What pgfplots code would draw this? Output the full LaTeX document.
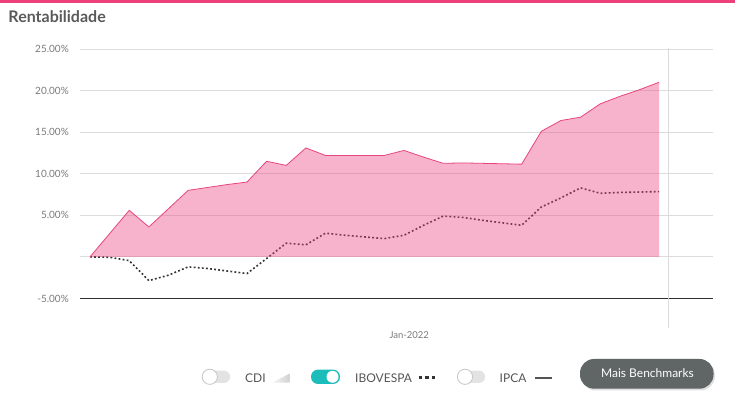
\documentclass[border=0pt]{standalone}
\usepackage{fontspec}
\setmainfont{Lato}
\usepackage{pgfplots}
\usepackage{pgfplotstable}
\pgfplotsset{compat=1.18}

\definecolor{pinkline}{HTML}{E8457D}
\definecolor{pinkfill}{HTML}{EB417D}
\definecolor{topbar}{HTML}{EC407A}
\definecolor{gridc}{HTML}{DCDCDC}
\definecolor{tickc}{HTML}{7A7A7A}
\definecolor{ibovc}{HTML}{333333}
\definecolor{toggleon}{HTML}{1BBDBB}
\definecolor{legtext}{HTML}{555555}
\definecolor{btn}{HTML}{606565}
\definecolor{titlec}{HTML}{5A5A5A}

\pgfplotstableread{
x fund ibov
0 0 0
1 2.8 -0.05
2 5.6 -0.45
3 3.6 -2.85
4 5.8 -2.2
5 8.0 -1.2
6 8.35 -1.4
7 8.7 -1.7
8 9.0 -2.0
9 11.5 -0.2
10 11.0 1.65
11 13.1 1.45
12 12.2 2.85
13 12.2 2.6
14 12.2 2.4
15 12.2 2.2
16 12.8 2.6
17 12.0 3.8
18 11.25 4.9
19 11.3 4.75
20 11.25 4.4
21 11.2 4.1
22 11.15 3.8
23 15.1 6.0
24 16.4 7.1
25 16.8 8.3
26 18.4 7.65
27 19.3 7.75
28 20.1 7.8
29 21.0 7.85
}\data

\begin{document}
\begin{tikzpicture}[x=1pt,y=1pt]
\fill[white] (0,0) rectangle (735,398);
\fill[topbar] (0,395) rectangle (735,398);
\node[anchor=base west, inner sep=0, text=titlec, font=\fontsize{16}{18}\selectfont\bfseries] at (8.3,375.3) {Rentabilidade};

\begin{axis}[
  at={(80pt,70pt)}, anchor=south west, scale only axis,
  width=633pt, height=280pt,
  xmin=-0.51, xmax=31.75, ymin=-8.55, ymax=25.12,
  axis line style={draw=none},
  major tick length=0pt,
  ytick={-5,0,5,10,15,20,25},
  yticklabels={-5.00\%,,5.00\%,10.00\%,15.00\%,20.00\%,25.00\%},
  xtick={16.27}, xticklabels={Jan-2022},
  ymajorgrids, grid style={gridc, line width=0.8pt},
  yticklabel style={font=\fontsize{10}{12}\selectfont, text=tickc, inner sep=0pt, anchor=east, xshift=-11pt},
  xticklabel style={font=\fontsize{9.5}{12}\selectfont, text=tickc, inner sep=0pt, anchor=north, yshift=-3.7pt},
]
\addplot[draw=ibovc, line width=1.6pt, dash pattern=on 1.8pt off 2.3pt] table[x=x,y=ibov]{\data};
\addplot[draw=none, fill=pinkfill, fill opacity=0.4] table[x=x,y=fund]{\data} \closedcycle;
\addplot[draw=pinkline, line width=0.8pt] table[x=x,y=fund]{\data};
\draw[black!82, line width=1.4pt] (axis cs:-0.51,-5) -- (axis cs:31.75,-5);
\draw[gray!28, line width=0.8pt] (axis cs:29.46,-8.55) -- (axis cs:29.46,25.12);
\end{axis}

% legend
% CDI toggle (off)
\fill[gray!22, rounded corners=6pt] (202,15) rectangle (230,27.4);
\filldraw[fill=white, draw=gray!45, line width=0.8pt] (209.8,21.2) circle (7.6);
\node[anchor=base west, inner sep=0, text=legtext, font=\fontsize{12}{14}\selectfont] at (245,15.7) {CDI};
\shade[left color=gray!8, right color=gray!35] (272.3,15.3) -- (289.3,15.3) -- (289.3,24.3) -- cycle;
% IBOVESPA toggle (on)
\fill[toggleon, rounded corners=7pt] (311,14) rectangle (340,28.4);
\fill[white] (332.5,21.2) circle (6);
\node[anchor=base west, inner sep=0, text=legtext, font=\fontsize{12}{14}\selectfont] at (355,15.7) {IBOVESPA};
\draw[ibovc, line width=3pt, dash pattern=on 3.5pt off 3pt] (418.8,20.3) -- (436,20.3);
% IPCA toggle (off)
\fill[gray!22, rounded corners=6pt] (457,15) rectangle (485,27.4);
\filldraw[fill=white, draw=gray!45, line width=0.8pt] (465,21.2) circle (7.6);
\node[anchor=base west, inner sep=0, text=legtext, font=\fontsize{12}{14}\selectfont] at (499.5,15.7) {IPCA};
\draw[legtext, line width=2pt] (535.3,20.3) -- (551.8,20.3);
% button
\fill[black!12, rounded corners=14pt] (581.5,7.5) rectangle (714.8,37.5);
\fill[btn, rounded corners=14pt] (580,9.3) rectangle (713.5,39);
\node[text=white, font=\fontsize{12}{14}\selectfont] at (647.5,24.6) {Mais Benchmarks};
\end{tikzpicture}
\end{document}
